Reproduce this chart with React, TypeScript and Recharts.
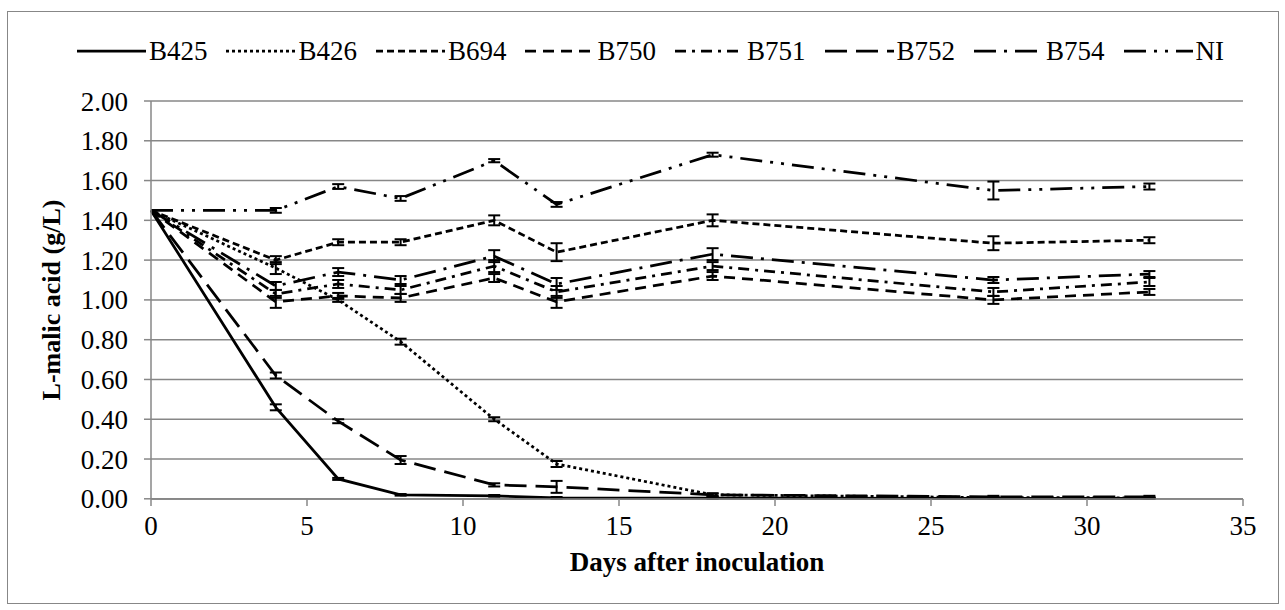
import { LineChart, Line, XAxis, YAxis, CartesianGrid, ErrorBar, Legend } from "recharts";

// days after inoculation
const days = [0, 4, 6, 8, 11, 13, 18, 27, 32];

const b425 = [1.45, 0.46, 0.1, 0.02, 0.015, 0.005, 0.003, 0.002, 0.002];
const b425Err = [0, 0.015, 0.005, 0.004, 0.004, 0.004, 0.004, 0.002, 0.002];
const b426 = [1.45, 1.16, 1.0, 0.79, 0.4, 0.175, 0.02, 0.006, 0.005];
const b426Err = [0, 0.03, 0.01, 0.015, 0.01, 0.015, 0.006, 0.003, 0.003];
const b694 = [1.45, 1.2, 1.29, 1.29, 1.4, 1.24, 1.4, 1.285, 1.3];
const b694Err = [0, 0.02, 0.015, 0.015, 0.025, 0.045, 0.03, 0.035, 0.015];
const b750 = [1.45, 0.99, 1.02, 1.01, 1.11, 0.99, 1.12, 1.0, 1.04];
const b750Err = [0, 0.03, 0.015, 0.02, 0.02, 0.03, 0.02, 0.02, 0.015];
const b751 = [1.45, 1.03, 1.08, 1.05, 1.17, 1.04, 1.17, 1.04, 1.09];
const b751Err = [0, 0.02, 0.02, 0.02, 0.03, 0.03, 0.02, 0.02, 0.02];
const b752 = [1.45, 0.62, 0.39, 0.195, 0.07, 0.06, 0.02, 0.01, 0.01];
const b752Err = [0, 0.015, 0.01, 0.02, 0.008, 0.03, 0.008, 0.005, 0.005];
const b754 = [1.45, 1.07, 1.14, 1.1, 1.22, 1.08, 1.23, 1.1, 1.13];
const b754Err = [0, 0.02, 0.02, 0.02, 0.03, 0.03, 0.03, 0.015, 0.015];
const ni = [1.45, 1.45, 1.57, 1.51, 1.7, 1.48, 1.73, 1.55, 1.57];
const niErr = [0, 0.012, 0.012, 0.012, 0.008, 0.012, 0.01, 0.045, 0.015];

const xTicks = [0, 5, 10, 15, 20, 25, 30, 35];
const yTicks = [0, 0.2, 0.4, 0.6, 0.8, 1.0, 1.2, 1.4, 1.6, 1.8, 2.0];

const series = [
  { key: "b425", name: "B425", values: b425, err: b425Err, dash: undefined },
  { key: "b426", name: "B426", values: b426, err: b426Err, dash: "3 3" },
  { key: "b694", name: "B694", values: b694, err: b694Err, dash: "7 4" },
  { key: "b750", name: "B750", values: b750, err: b750Err, dash: "11 7" },
  { key: "b751", name: "B751", values: b751, err: b751Err, dash: "11 6 3 6" },
  { key: "b752", name: "B752", values: b752, err: b752Err, dash: "22 9" },
  { key: "b754", name: "B754", values: b754, err: b754Err, dash: "22 8 3 8" },
  { key: "ni", name: "NI", values: ni, err: niErr, dash: "22 8 3 8 3 8" },
];

const data = days.map((d, i) => {
  const row: Record<string, number> = { day: d };
  series.forEach((s) => {
    row[s.key] = s.values[i];
    row[s.key + "Err"] = s.err[i];
  });
  return row;
});

const FONT = "'Liberation Serif', 'DejaVu Serif', serif";
const FS = 27;
const GRID = "#878787";

function LegendContent() {
  return (
    <div style={{ display: "flex", justifyContent: "center", alignItems: "center", fontFamily: FONT, fontSize: FS, color: "#000", lineHeight: "32px" }}>
      {series.map((s, i) => (
        <div key={s.key} style={{ display: "flex", alignItems: "center", marginRight: i === series.length - 1 ? 0 : 19 }}>
          <svg width={69} height={10}>
            <line x1={0} y1={5} x2={69} y2={5} stroke="#000" strokeWidth={2.75} strokeDasharray={s.dash} />
          </svg>
          <span style={{ marginLeft: 3 }}>{s.name}</span>
        </div>
      ))}
    </div>
  );
}

export default function App() {
  return (
    <div style={{ position: "absolute", left: 0, top: 0, width: 1285, height: 610, background: "#fff" }}>
      <div style={{ position: "absolute", left: 7, top: 11, width: 1272, height: 593, border: `1.5px solid ${GRID}`, boxSizing: "border-box" }} />
      <div style={{ position: "absolute", left: 0, top: 0 }}>
        <LineChart width={1285} height={610} data={data} margin={{ top: 101, right: 42, bottom: 31, left: 51 }}>
          <CartesianGrid vertical={false} stroke={GRID} strokeWidth={1.5} />
          <XAxis
            type="number"
            dataKey="day"
            domain={[0, 35]}
            ticks={xTicks}
            height={80}
            stroke={GRID}
            strokeWidth={1.5}
            tickSize={7}
            tickMargin={10}
            tick={{ fill: "#000", fontSize: FS, fontFamily: FONT }}
            label={{ value: "Days after inoculation", position: "insideBottom", offset: 8, fill: "#000", fontSize: FS, fontWeight: "bold", fontFamily: FONT }}
          />
          <YAxis
            type="number"
            domain={[0, 2]}
            ticks={yTicks}
            width={100}
            stroke={GRID}
            strokeWidth={1.5}
            tickSize={7}
            tickMargin={16}
            tickFormatter={(v: number) => v.toFixed(2)}
            tick={{ fill: "#000", fontSize: FS, fontFamily: FONT }}
            label={{
              content: (props: any) => {
                const vb = props.viewBox || { x: 51, y: 101, width: 100, height: 397 };
                const cx = 51;
                const cy = vb.y + vb.height / 2;
                return (
                  <text x={cx} y={cy} transform={`rotate(-90 ${cx} ${cy})`} textAnchor="middle" dominantBaseline="central" fontFamily={FONT} fontSize={FS - 1} fontWeight="bold" fill="#000">
                    L-malic acid (g/L)
                  </text>
                );
              },
            }}
          />
          <Legend
            verticalAlign="middle"
            align="center"
            content={<LegendContent />}
            wrapperStyle={{ position: "absolute", top: 35, left: 8, width: 1285 }}
          />
          {series.map((s) => (
            <Line
              key={s.key}
              type="linear"
              dataKey={s.key}
              name={s.name}
              stroke="#000"
              strokeWidth={2.75}
              strokeDasharray={s.dash}
              dot={false}
              isAnimationActive={false}
            >
              <ErrorBar dataKey={s.key + "Err"} width={6} stroke="#000" strokeWidth={2} direction="y" />
            </Line>
          ))}
        </LineChart>
      </div>
    </div>
  );
}
